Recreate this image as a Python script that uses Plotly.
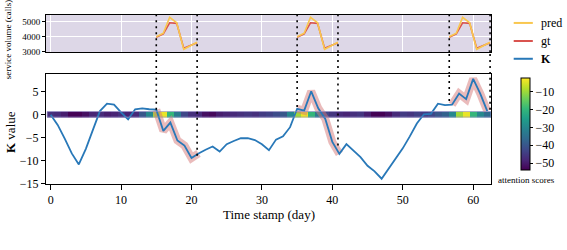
import plotly.graph_objects as go

# ---------------- data ----------------
days = list(range(63))
k_values = [-0.1, -2.3, -5.3, -8.5, -10.9, -7.5, -3.4, 0.7, 2.3, 2.1,
            0.4, -1.1, 1.1, 1.3, 1.1, 1.0, -3.6, -1.8, -5.7, -6.8,
            -9.5, -8.5, -7.7, -7.0, -8.1, -6.5, -5.8, -5.2, -5.2, -5.6,
            -6.5, -7.8, -5.5, -4.8, -2.8, 1.2, 0.8, 5.0, 1.3, -1.0,
            -6.0, -8.6, -6.5, -7.8, -9.3, -11.2, -12.4, -14.0, -11.8, -9.8,
            -7.4, -4.8, -2.0, 0.0, 0.1, 2.3, 2.0, 2.1, 4.5, 3.3,
            7.7, 4.5, 0.7]
attention = [-47, -48, -50, -54, -54, -52, -49, -48, -50, -49,
             -47, -49, -48, -40, -30, -10, -4, -20, -33, -43,
             -47, -48, -52, -53, -50, -49, -48, -47, -46, -47,
             -45, -44, -42, -40, -30, -10, -4, -20, -33, -43,
             -46, -48, -49, -47, -46, -50, -54, -55, -52, -48,
             -45, -46, -44, -45, -43, -40, -38, -30, -10, -4,
             -20, -30, -36]
pred_vals = [4000, 4230, 5290, 4930, 3160, 3400, 3630]
gt_vals = [3960, 4180, 4930, 4890, 3230, 3420, 3600]
window_x = [[15.0, 16.0, 16.9, 17.9, 18.9, 19.8, 20.8],
            [35.0, 36.0, 36.9, 37.9, 38.9, 39.8, 40.8],
            [56.6, 57.6, 58.5, 59.5, 60.5, 61.4, 62.4]]
boundary_x = [15.0, 20.8, 35.0, 40.8, 56.6, 62.4]
boundary_k = [1.0, -9.0, 1.6, -6.8, 2.9, 1.0]
highlight_days = [(15, 21), (35, 41), (57, 62)]
x_ticks = [0, 10, 20, 30, 40, 50, 60]
k_ticks = [-15, -10, -5, 0, 5]
vol_ticks = [3000, 4000, 5000]
cb_ticks = [-10, -20, -30, -40, -50]

FONT = "Liberation Serif"
C_PRED = "#f9c74f"
C_GT = "#d9534f"
C_K = "#2878b8"
C_HL = "rgba(214,120,120,0.5)"
LAV = "#ddd7e7"

XR = [-0.66, 62.53]
Y2R = [-15.15, 8.76]
YR = [2960, 5447]
TOP_DOM = [0.7793, 1.0]
BOT_DOM = [0.0, 0.6509]

fig = go.Figure()

# top subplot: gt and pred per window
for wx in window_x:
    fig.add_trace(go.Scatter(x=wx, y=gt_vals, mode="lines", line=dict(color=C_GT, width=1.6),
                             xaxis="x", yaxis="y", showlegend=False, hoverinfo="skip"))
    fig.add_trace(go.Scatter(x=wx, y=pred_vals, mode="lines", line=dict(color=C_PRED, width=1.6),
                             xaxis="x", yaxis="y", showlegend=False, hoverinfo="skip"))

# bottom subplot: highlights
for a, b in highlight_days:
    fig.add_trace(go.Scatter(x=days[a:b + 1], y=k_values[a:b + 1], mode="lines",
                             line=dict(color=C_HL, width=8), xaxis="x2", yaxis="y2",
                             showlegend=False, hoverinfo="skip"))

# attention strip
fig.add_trace(go.Heatmap(x=days, y=[-0.6, 0.6], z=[attention], colorscale="Viridis",
                         zmin=-54.1, zmax=-2.5, xaxis="x2", yaxis="y2", hoverinfo="skip",
                         colorbar=dict(x=1.067, xanchor="left", y=0.353, yanchor="middle",
                                       len=0.547, lenmode="fraction", thickness=9,
                                       xpad=0, ypad=0,
                                       outlinecolor="black", outlinewidth=1,
                                       ticks="outside", ticklen=3, tickcolor="black",
                                       tickvals=cb_ticks,
                                       tickfont=dict(family=FONT, size=12, color="black"))))

# K line
fig.add_trace(go.Scatter(x=days, y=k_values, mode="lines", line=dict(color=C_K, width=1.8),
                         xaxis="x2", yaxis="y2", showlegend=False, hoverinfo="skip"))

shapes = []
# lavender background of top plot
shapes.append(dict(type="rect", xref="x domain", yref="y domain", x0=0, x1=1, y0=0, y1=1,
                   fillcolor=LAV, line=dict(width=0), layer="below"))
# strip outline
shapes.append(dict(type="rect", xref="x2", yref="y2", x0=-0.5, x1=62.5, y0=-0.6, y1=0.6,
                   line=dict(color="rgba(150,140,200,0.6)", width=1), fillcolor="rgba(0,0,0,0)"))
# dotted boundary lines
dot = dict(color="black", width=1.6, dash="2px,4px")
for bx, bk in zip(boundary_x, boundary_k):
    shapes.append(dict(type="line", xref="x", yref="y domain", x0=bx, x1=bx, y0=0, y1=1, line=dot))
    shapes.append(dict(type="line", xref="x", yref="paper", x0=bx, x1=bx,
                       y0=BOT_DOM[1], y1=TOP_DOM[0], line=dot))
    shapes.append(dict(type="line", xref="x2", yref="y2", x0=bx, x1=bx, y0=bk, y1=Y2R[1], line=dot))

# manual legend
leg = [("pred", C_PRED, 0.953), ("gt", C_GT, 0.846), ("<b>K</b>", C_K, 0.741)]
annotations = []
for name, col, yy in leg:
    shapes.append(dict(type="line", xref="paper", yref="paper", x0=1.051, x1=1.094, y0=yy, y1=yy,
                       line=dict(color=col, width=2)))
    annotations.append(dict(text=name, xref="paper", yref="paper", x=1.108, y=yy, xanchor="left",
                            yanchor="middle", showarrow=False,
                            font=dict(family=FONT, size=12, color="black")))

annotations += [
    dict(text="service volume (calls)", xref="paper", yref="paper", x=-0.085, y=0.852,
         textangle=-90, showarrow=False, xanchor="center", yanchor="middle",
         font=dict(family=FONT, size=9, color="black")),
    dict(text="<b>K</b> value", xref="paper", yref="paper", x=-0.08, y=0.31,
         textangle=-90, showarrow=False, xanchor="center", yanchor="middle",
         font=dict(family=FONT, size=13, color="black")),
    dict(text="Time stamp (day)", xref="paper", yref="paper", x=0.5, y=-0.18,
         showarrow=False, xanchor="center", yanchor="middle",
         font=dict(family=FONT, size=13, color="black")),
    dict(text="attention scores", xref="paper", yref="paper", x=1.080, y=0.024,
         showarrow=False, xanchor="center", yanchor="middle",
         font=dict(family=FONT, size=9, color="black")),
]

axis_common = dict(showline=True, linecolor="black", linewidth=1, mirror=True, zeroline=False,
                   tickfont=dict(family=FONT, color="black"))

fig.update_layout(
    width=567, height=250,
    margin=dict(l=46, r=73, t=15, b=66),
    paper_bgcolor="white", plot_bgcolor="white",
    font=dict(family=FONT, color="black"),
    showlegend=False,
    xaxis=dict(domain=[0, 1], range=XR, anchor="y", showticklabels=False, ticks="",
               tickvals=x_ticks, showgrid=True, gridcolor="white", gridwidth=1, **axis_common),
    yaxis=dict(domain=TOP_DOM, range=YR, anchor="x", tickvals=vol_ticks, ticks="outside", ticklen=3,
               tickcolor="black", showgrid=True, gridcolor="white", gridwidth=1,
               **{**axis_common, "tickfont": dict(family=FONT, size=9, color="black")}),
    xaxis2=dict(domain=[0, 1], range=XR, anchor="y2", tickvals=x_ticks, ticks="outside", ticklen=5,
                tickcolor="black", showgrid=False,
                **{**axis_common, "tickfont": dict(family=FONT, size=12, color="black")}),
    yaxis2=dict(domain=BOT_DOM, range=Y2R, anchor="x2", tickvals=k_ticks, ticks="outside", ticklen=4,
                tickcolor="black", showgrid=False,
                **{**axis_common, "tickfont": dict(family=FONT, size=12, color="black")}),
    shapes=shapes,
    annotations=annotations,
)

fig.write_html("out.html", config={"displayModeBar": False},
               post_script="document.body.style.margin='0';document.body.style.padding='0';")
